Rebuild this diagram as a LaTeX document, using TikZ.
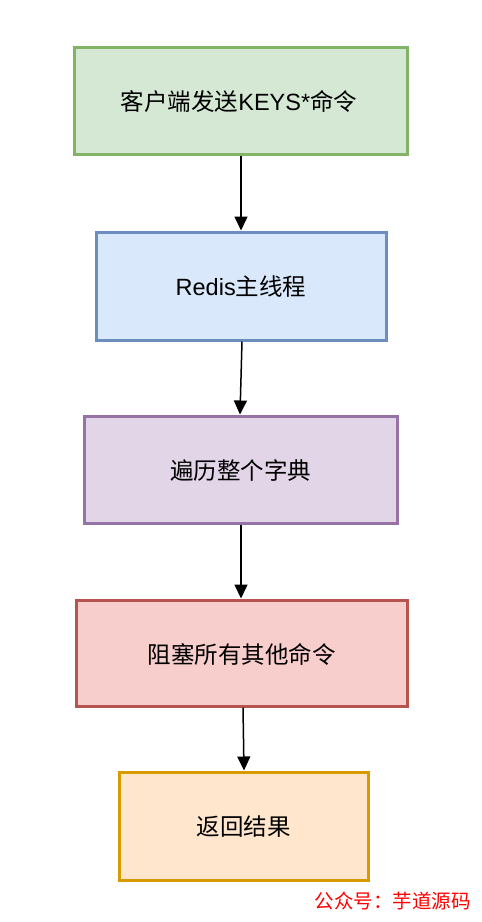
\documentclass[tikz,border=0pt]{standalone}
\usepackage{fontspec}
\setmainfont{Liberation Sans}
\newfontfamily\cjk{Noto Sans CJK SC}
\usetikzlibrary{arrows.meta}
\definecolor{gfill}{HTML}{D5E8D4}\definecolor{gdraw}{HTML}{82B366}
\definecolor{bfill}{HTML}{DAE8FC}\definecolor{bdraw}{HTML}{6C8EBF}
\definecolor{pfill}{HTML}{E1D5E7}\definecolor{pdraw}{HTML}{9673A6}
\definecolor{rfill}{HTML}{F8CECC}\definecolor{rdraw}{HTML}{B85450}
\definecolor{ofill}{HTML}{FFE6CC}\definecolor{odraw}{HTML}{D79B00}
\tikzset{
  box/.style={draw, line width=3pt},
  lbl/.style={font=\fontsize{23.5}{28}\selectfont, text=black},
  conn/.style={line width=1.5pt, -{Triangle[length=14pt,width=13pt]}}
}
\begin{document}
\begin{tikzpicture}[x=1pt,y=-1pt]
\useasboundingbox (0,0) rectangle (482,922);
\fill[white] (0,0) rectangle (482,922);
\draw[box, fill=gfill, draw=gdraw] (74,47) rectangle (407,154);
\node[lbl] (a) at (239,101) {\cjk 客户端发送\rmfamily KEYS*\cjk 命令};
\draw[box, fill=bfill, draw=bdraw] (96,232) rectangle (386,340);
\node[lbl] (b) at (241,286.5) {Redis\cjk 主线程};
\draw[box, fill=pfill, draw=pdraw] (84,416) rectangle (397,523);
\node[lbl] (c) at (240.5,470) {\cjk 遍历整个字典};
\draw[box, fill=rfill, draw=rdraw] (76,600) rectangle (407,706);
\node[lbl] (d) at (241.5,654) {\cjk 阻塞所有其他命令};
\draw[box, fill=ofill, draw=odraw] (119,772) rectangle (368,880);
\node[lbl] (e) at (243.5,827) {\cjk 返回结果};
\coordinate (a1) at (241,155.5); \coordinate (b0) at (241,230.5);
\coordinate (b1) at (242,341.5); \coordinate (c0) at (240,414.5);
\coordinate (c1) at (241,524.5); \coordinate (d0) at (241,598.5);
\coordinate (d1) at (243,707.5); \coordinate (e0) at (244,770.5);
\draw[conn] (a1) -- (b0);
\draw[conn] (b1) -- (c0);
\draw[conn] (c1) -- (d0);
\draw[conn] (d1) -- (e0);
\node[anchor=east, text=red, inner sep=0pt, font=\cjk\fontsize{19.5}{23}\selectfont] (w) at (471,901) {公众号：芋道源码};
\end{tikzpicture}
\end{document}
